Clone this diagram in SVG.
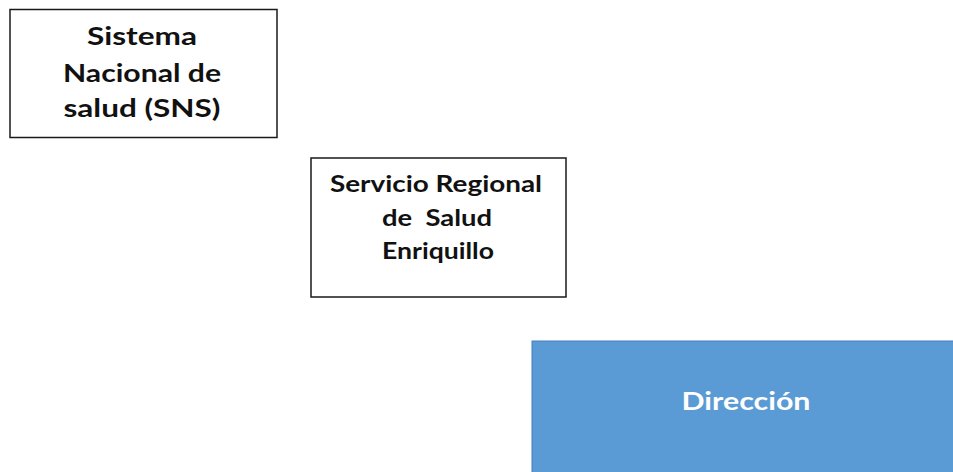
<svg xmlns="http://www.w3.org/2000/svg" width="953" height="472" viewBox="0 0 953 472">
<style>
.box{fill:#ffffff;stroke:#1a1a1a;stroke-width:1.5}
.blue{fill:#5b9bd5;stroke:#4a7ebb;stroke-width:1}
.t{font-family:Lato,"Open Sans","Liberation Sans",sans-serif;font-weight:bold;text-anchor:middle;fill:#111111}
.w{fill:#ffffff}
</style>
<rect width="953" height="472" fill="#ffffff"/>
<g id="connectors"></g>
<g id="sns">
<rect class="box" x="10" y="9.5" width="267" height="128"/>
<text class="t" font-size="25" x="142" y="45" textLength="110" lengthAdjust="spacingAndGlyphs">Sistema</text>
<text class="t" font-size="25" x="142" y="81.5" textLength="158" lengthAdjust="spacingAndGlyphs">Nacional de</text>
<text class="t" font-size="25" x="142" y="117" textLength="157" lengthAdjust="spacingAndGlyphs">salud (SNS)</text>
</g>
<g id="srs">
<rect class="box" x="311" y="158" width="255" height="139"/>
<text class="t" font-size="22" x="436" y="192" textLength="212" lengthAdjust="spacingAndGlyphs">Servicio Regional</text>
<text class="t" font-size="22" x="437" y="226" textLength="110" lengthAdjust="spacingAndGlyphs" xml:space="preserve">de  Salud</text>
<text class="t" font-size="22" x="438" y="259" textLength="112" lengthAdjust="spacingAndGlyphs">Enriquillo</text>
</g>
<g id="direccion">
<rect class="blue" x="532" y="341" width="430" height="140"/>
<text class="t w" font-size="25" x="746" y="410" textLength="129" lengthAdjust="spacingAndGlyphs">Dirección</text>
</g>
</svg>
